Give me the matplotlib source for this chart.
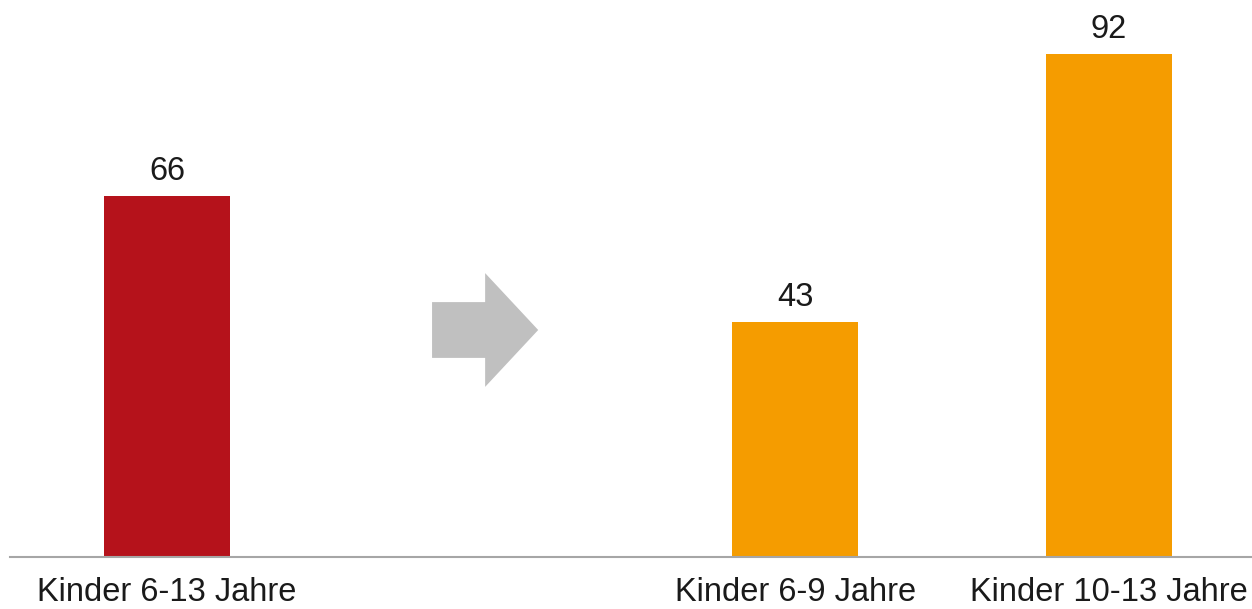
import matplotlib
matplotlib.use("Agg")
import matplotlib.pyplot as plt
from matplotlib.patches import FancyArrow

categories = ["Kinder 6-13 Jahre", "", "Kinder 6-9 Jahre", "Kinder 10-13 Jahre"]
values = [66, None, 43, 92]
colors = ["#B5121B", None, "#F59C00", "#F59C00"]

plt.rcParams['font.family'] = ['Liberation Sans', 'DejaVu Sans']

fig = plt.figure(figsize=(12.52, 6.09), dpi=100)
ax = fig.add_axes([10/1252, 52/609, 1242/1252, 547/609])

xs = [i for i, v in enumerate(values) if v is not None]
vs = [v for v in values if v is not None]
cs = [c for c in colors if c is not None]
bars = ax.bar(xs, vs, width=0.4, color=cs, zorder=2)
ax.bar_label(bars, labels=[str(v) for v in vs], padding=6.5, fontsize=23.5, color="#1a1a1a")

# grey arrow in the empty slot
arrow_x = 1.013
ax.add_patch(FancyArrow(arrow_x - 0.169, 41.5, 0.338, 0, width=10.2, head_width=20.8,
                        head_length=0.169, length_includes_head=True,
                        color="#C0C0C0", linewidth=0, zorder=2))

ax.set_xlim(-0.5, 3.455)
ax.set_ylim(0, 100)
ax.set_xticks(range(len(categories)))
ax.set_xticklabels(categories, fontsize=23.5, color="#1a1a1a")
ax.tick_params(axis='x', length=0, pad=14.5)
ax.set_yticks([])
for s in ["top", "right", "left"]:
    ax.spines[s].set_visible(False)
ax.spines["bottom"].set_color("#A6A6A6")
ax.spines["bottom"].set_linewidth(1.5)

fig.savefig("out.png", dpi=100)
